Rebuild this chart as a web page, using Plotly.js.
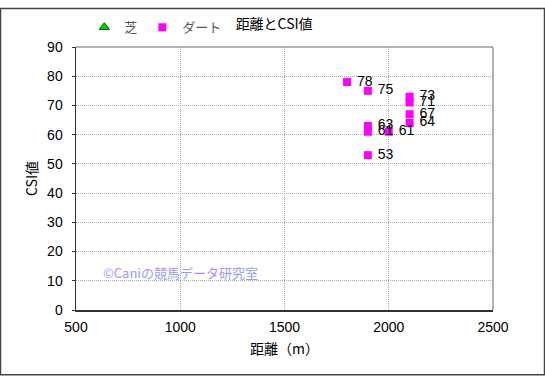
<!DOCTYPE html>
<html><head><meta charset="utf-8">
<script src="https://cdn.plot.ly/plotly-3.0.1.min.js"></script>
<style>html,body{margin:0;padding:0;background:#fff}#c{width:545px;height:377px;box-sizing:border-box}</style>
</head><body><div id="c"></div>
<script>
const dirtX = [1800, 1900, 2100, 2100, 2100, 2100, 1900, 1900, 2000, 1900];
const dirtY = [78, 75, 73, 71, 67, 64, 63, 61, 61, 53];
const dirtLabels = ["78", "75", "73", "71", "67", "64", "63", "61", "61", "53"];
const turfX = [null];
const turfY = [null];
const xTicks = [500, 1000, 1500, 2000, 2500];
const yTicks = [0, 10, 20, 30, 40, 50, 60, 70, 80, 90];

const tickFont = {family: "Liberation Sans, Arial, sans-serif", size: 14, color: "#000"};
const jp = "Noto Sans CJK JP, sans-serif";

const traces = [
  {x: turfX, y: turfY, type: "scatter", mode: "markers", name: "芝",
   marker: {symbol: "triangle-up", size: 9, color: "#00cc00", line: {color: "#006600", width: 1}}},
  {x: dirtX, y: dirtY, type: "scatter", mode: "markers+text", name: "ダート",
   text: dirtLabels, texttemplate: " %{text}", textposition: "middle right",
   textfont: {family: "Liberation Sans, Arial, sans-serif", size: 14, color: "#000"},
   marker: {symbol: "square", size: 8, color: "#ff00ff"}}
];

const layout = {
  width: 545, height: 377,
  margin: {l: 76, r: 52, t: 40, b: 67},
  paper_bgcolor: "#fff", plot_bgcolor: "#fff",
  title: {text: "距離とCSI値", x: 0.503, xanchor: "center", y: 0.937, yanchor: "middle",
          font: {family: jp, size: 14, color: "#000"}},
  showlegend: true,
  legend: {orientation: "h", x: 0.02, xanchor: "left", y: 1.075, yanchor: "middle",
           font: {family: jp, size: 13, color: "#555"}, itemwidth: 30, tracegroupgap: 0,
           bgcolor: "rgba(0,0,0,0)"},
  xaxis: {range: [500, 2500], tickvals: xTicks, ticktext: xTicks.map(String), tickfont: tickFont,
          showgrid: true, gridcolor: "#aaa", griddash: "1px,1px", gridwidth: 1,
          showline: true, linecolor: "#333", linewidth: 1.5, mirror: false, zeroline: false,
          ticks: "", ticklabelstandoff: 4,
          title: {text: "距離（m）", font: {family: jp, size: 14, color: "#000"}, standoff: 10}},
  yaxis: {range: [0, 90], tickvals: yTicks, ticktext: yTicks.map(String), tickfont: tickFont,
          showgrid: true, gridcolor: "#aaa", griddash: "1px,1px", gridwidth: 1,
          showline: true, linecolor: "#333", linewidth: 1.5, mirror: false, zeroline: false,
          ticks: "outside", ticklen: 3, tickcolor: "#333", ticklabelstandoff: 6,
          title: {text: "CSI値", font: {family: jp, size: 14, color: "#000"}, standoff: 6}},
  annotations: [
    {text: "©Caniの競馬データ研究室", xref: "x", yref: "y", x: 620, y: 13, xanchor: "left", yanchor: "middle",
     showarrow: false, font: {family: jp, size: 13, color: "#9999ff"}}
  ],
  shapes: [
    {type: "line", xref: "paper", yref: "paper", x0: 0, x1: 1, y0: 1, y1: 1, line: {color: "#999", width: 1.5}},
    {type: "line", xref: "paper", yref: "paper", x0: 1, x1: 1, y0: 0, y1: 1, line: {color: "#999", width: 1.5}},
    {type: "rect", xref: "paper", yref: "paper", x0: -75.5/417, x1: 1 + 51.5/417, y0: -66.5/270, y1: 1 + 39.5/270,
     line: {color: "#444", width: 1.5}, fillcolor: "rgba(0,0,0,0)", layer: "below"}
  ]
};

Plotly.newPlot("c", traces, layout, {displayModeBar: false, staticPlot: true});
</script></body></html>
